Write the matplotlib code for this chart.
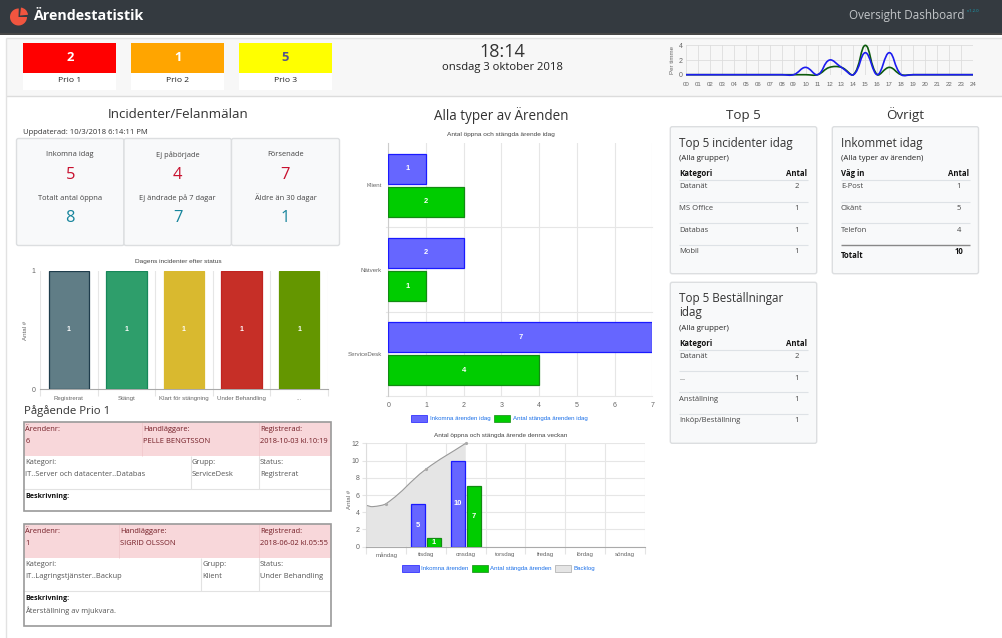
import numpy as np
import matplotlib
matplotlib.use('Agg')
import matplotlib.pyplot as plt
from matplotlib.patches import Rectangle, FancyBboxPatch, Wedge, PathPatch
from matplotlib.path import Path

W, H = 1003, 638
UI_FONT = 'Open Sans'
CHART_FONT = 'Liberation Sans'

# priority tiles
prio_names = ['Prio 1', 'Prio 2', 'Prio 3']
prio_values = [2, 1, 5]

# hourly sparkline
hours = list(range(25))
hour_labels = ['%02d' % h for h in hours]
hourly_green = [0, 0, 0, 0, 0, 0, 0, 0, 0, 0, 0, 0, 1, 1, 0, 4, 0, 1, 0, 0, 0, 0, 0, 0, 0]
hourly_blue = [0, 0, 0, 0, 0, 0, 0, 0, 0, 0, 1, 0, 2, 1, 0, 3, 0, 3, 0, 0, 0, 0, 0, 0, 0]

# incident cards
card_top_labels = ['Inkomna idag', 'Ej påbörjade', 'Försenade']
card_top_values = [5, 4, 7]
card_low_labels = ['Totalt antal öppna', 'Ej ändrade på 7 dagar', 'Äldre än 30 dagar']
card_low_values = [8, 7, 1]

# status chart
status_names = ['Registrerat', 'Stängt', 'Klart för stängning', 'Under Behandling', '...']
status_values = [1, 1, 1, 1, 1]
status_fill = ['#607d86', '#2e9e6b', '#d9b92f', '#c62f27', '#649600']
status_edge = ['#1f3d4c', '#17875a', '#d9b92f', '#c02420', '#649600']

# today per group
group_names = ['Klient', 'Nätverk', 'ServiceDesk']
group_incoming = [1, 2, 7]
group_closed = [2, 1, 4]

# this week
days = ['måndag', 'tisdag', 'onsdag', 'torsdag', 'fredag', 'lördag', 'söndag']
week_incoming = [0, 5, 10, 0, 0, 0, 0]
week_closed = [0, 1, 7, 0, 0, 0, 0]
backlog_pos = [-0.5, -0.34, 0, 1, 2]
backlog_vals = [4.8, 4.65, 5, 9, 12]

# small tables
top_inc = [('Datanät', 2), ('MS Office', 1), ('Databas', 1), ('Mobil', 1)]
inflow = [('E-Post', 1), ('Okänt', 5), ('Telefon', 4)]
inflow_total = 10
top_orders = [('Datanät', 2), ('...', 1), ('Anställning', 1), ('Inköp/Beställning', 1)]

BLUE_FILL, BLUE_EDGE = '#6666ff', '#1a1aff'
GREEN_FILL, GREEN_EDGE = '#00cc00', '#128a12'
TICK = 6.2

fig = plt.figure(figsize=(W / 100, H / 100), dpi=100, facecolor='white')
root = fig.add_axes([0, 0, 1, 1], zorder=0)
root.set_xlim(0, W)
root.set_ylim(H, 0)
root.axis('off')


def px(size):
    return size * 0.72


def txt(x, y, s, size=10, color='#333333', ha='left', weight='normal', family=UI_FONT, rot=0, alpha=1):
    root.text(x, y, s, fontsize=px(size), color=color, ha=ha, va='center', fontweight=weight,
              family=family, rotation=rot, alpha=alpha, zorder=8)


def rect(x0, y0, x1, y1, fc, ec='none', lw=0, z=1):
    root.add_patch(Rectangle((x0, y0), x1 - x0, y1 - y0, fc=fc, ec=ec, lw=lw, zorder=z))


def line(x0, y0, x1, y1, color='#dee2e6', lw=0.8, z=3):
    root.plot([x0, x1], [y0, y1], color=color, lw=lw, zorder=z, solid_capstyle='butt')


def card(x0, y0, x1, y1):
    root.add_patch(FancyBboxPatch((x0 + 2, y0 + 2), x1 - x0 - 4, y1 - y0 - 4, boxstyle='round,pad=2,rounding_size=2',
                                  fc='#f8f9fa', ec='#dcdee0', lw=1, zorder=2))


def px_axes(x0, y0, x1, y1):
    ax = fig.add_axes([x0 / W, 1 - y1 / H, (x1 - x0) / W, (y1 - y0) / H], zorder=5)
    ax.patch.set_alpha(0)
    for s in ax.spines.values():
        s.set_visible(False)
    return ax


def spline(xs, ys, t=0.4):
    # same kind of bezier chart.js draws between its points
    verts = [(xs[0], ys[0])]
    codes = [Path.MOVETO]
    n = len(xs)
    ctrl = []
    for i in range(n):
        a = max(i - 1, 0)
        b = min(i + 1, n - 1)
        d01 = np.hypot(xs[i] - xs[a], ys[i] - ys[a])
        d12 = np.hypot(xs[b] - xs[i], ys[b] - ys[i])
        total = d01 + d12
        fa = t * d01 / total if total else 0
        fb = t * d12 / total if total else 0
        dx, dy = xs[b] - xs[a], ys[b] - ys[a]
        ctrl.append(((xs[i] - fa * dx, ys[i] - fa * dy), (xs[i] + fb * dx, ys[i] + fb * dy)))
    for i in range(1, n):
        verts += [ctrl[i - 1][1], ctrl[i][0], (xs[i], ys[i])]
        codes += [Path.CURVE4] * 3
    return verts, codes


# header
rect(0, 0, W, 33, '#343a40', z=1)
line(0, 33.5, W, 33.5, '#222222', 1.2)
# y axis is flipped here, so wedge angles run clockwise on screen
root.add_patch(Wedge((18.5, 17), 8.5, 0, 272, fc='#f0553f', ec='none', zorder=3))
root.add_patch(Wedge((20, 15.5), 8, 277, 355, fc='#f0553f', ec='none', zorder=3))
txt(33, 15.5, 'Ärendestatistik', 14.2, 'white', weight='bold')
txt(849, 15.5, 'Oversight Dashboard', 11.6, '#c2c5c8')
txt(967, 11, 'v1.2.0', 4.2, '#17a2b8')

# top strip
rect(6, 38, W, 96, '#f7f7f7', z=1)
line(6, 38, W, 38, '#e2e2e2', 1)
line(6, 95.5, W, 95.5, '#dcdcdc', 1)
line(6, 38, 6, H, '#e2e2e2', 1)

tile_x = [(23.5, 116.5), (131.5, 224), (239, 332)]
tile_col = ['#ff0000', '#ffa500', '#ffff00']
tile_txt = ['white', 'white', '#55558a']
for (x0, x1), c, tc, name, val in zip(tile_x, tile_col, tile_txt, prio_names, prio_values):
    rect(x0, 43, x1, 89.5, 'white', z=2)
    rect(x0, 43, x1, 72.5, c, z=3)
    txt((x0 + x1) / 2, 57.5, str(val), 13, tc, ha='center', weight='bold')
    txt((x0 + x1) / 2, 81, name, 8.5, '#222222', ha='center', weight='medium')

txt(502, 52, '18:14', 18, '#333333', ha='center')
txt(502.5, 67.5, 'onsdag 3 oktober 2018', 11.3, '#222222', ha='center')

# sparkline
ax = px_axes(686, 45, 973, 74.7)
ax.set_xlim(0, 24)
ax.set_ylim(0, 4.05)
ax.set_xticks(hours)
ax.set_xticklabels(hour_labels, fontsize=px(TICK), color='#666666', family=CHART_FONT)
ax.set_yticks([0, 2, 4])
ax.set_yticklabels(['0', '2', '4'], fontsize=px(7), color='#666666', family=CHART_FONT)
ax.tick_params(axis='x', length=0, pad=5)
ax.tick_params(axis='y', length=0, pad=2.5)
ax.grid(color='#dddddd', lw=0.6)
ax.set_axisbelow(True)
for vals, col, lw in [(hourly_green, '#0c5a0c', 1.2), (hourly_blue, '#1c1cf0', 1.2)]:
    v, c = spline(hours, vals)
    ax.add_patch(PathPatch(Path(v, c), fc='none', ec=col, lw=lw, clip_on=False))
txt(673, 60, 'Per timme', 6.2, '#666666', ha='center', rot=90, family=CHART_FONT)

# section headings
txt(178, 115, 'Incidenter/Felanmälan', 13.4, '#333333', ha='center')
txt(501, 115, 'Alla typer av Ärenden', 13.5, '#333333', ha='center')
txt(743, 115, 'Top 5', 13.4, '#333333', ha='center')
txt(905, 115, 'Övrigt', 13.4, '#333333', ha='center')
txt(23.5, 132.5, 'Uppdaterad: 10/3/2018 6:14:11 PM', 7.6, '#333333')

# incident cards
card_x = [(16.5, 124), (124, 231.5), (231.5, 339.5)]
for (x0, x1), a, b, c, d in zip(card_x, card_top_labels, card_top_values, card_low_labels, card_low_values):
    card(x0, 138.5, x1, 245.5)
    cx = (x0 + x1) / 2
    txt(cx, 155, a, 7.5, '#444444', ha='center')
    txt(cx, 175, str(b), 16.5, '#c8102e', ha='center')
    txt(cx, 198, c, 7.5, '#444444', ha='center')
    txt(cx, 218, str(d), 16.5, '#17859c', ha='center')

# status chart
ax = px_axes(40, 270.7, 328, 389)
ax.bar(range(5), status_values, width=0.7, color=status_fill, edgecolor=status_edge, lw=0.9, zorder=3)
for i, v in enumerate(status_values):
    ax.text(i, v / 2, str(v), color='white', fontsize=px(7), fontweight='bold', ha='center', va='center',
            family=CHART_FONT, zorder=4)
ax.set_xlim(-0.5, 4.5)
ax.set_ylim(0, 1)
ax.set_yticks([0, 1])
ax.set_yticklabels(['0', '1'], fontsize=px(7), color='#666666', family=CHART_FONT)
ax.set_xticks(np.arange(-0.5, 5))
ax.set_xticklabels([])
ax.set_xticks(range(5), minor=True)
ax.set_xticklabels(status_names, minor=True, fontsize=px(TICK), color='#666666', family=CHART_FONT)
ax.tick_params(axis='x', which='major', length=5, color='#e4e4e4', width=0.8)
ax.tick_params(axis='x', which='minor', length=0, pad=5)
ax.tick_params(axis='y', length=0, pad=3)
ax.xaxis.grid(True, which='major', color='#e6e6e6', lw=0.8)
ax.set_axisbelow(True)
ax.spines['bottom'].set_visible(True)
ax.spines['bottom'].set_color('#aaaaaa')
txt(178, 261.5, 'Dagens incidenter efter status', 6.45, '#444444', ha='center', family=CHART_FONT)
txt(25.5, 330, 'Antal #', 6.2, '#666666', ha='center', rot=90, family=CHART_FONT)

# ongoing prio 1
txt(24, 411, 'Pågående Prio 1', 11.4, '#333333')
tables = [
    dict(top=422, head=455.7, row=489, bottom=511, hand_x=143.5, grp_x=192,
         nr='6', hand='PELLE BENGTSSON', reg='2018-10-03 kl.10:19',
         cat='IT..Server och datacenter..Databas', grp='ServiceDesk', status='Registrerat', desc=''),
    dict(top=524, head=557.7, row=591.3, bottom=625.7, hand_x=120.5, grp_x=202.5,
         nr='1', hand='SIGRID OLSSON', reg='2018-06-02 kl.05:55',
         cat='IT..Lagringstjänster..Backup', grp='Klient', status='Under Behandling',
         desc='Återställning av mjukvara.'),
]
for t in tables:
    top = t['top']
    rect(24, top, 331.5, t['head'], '#f8d7da', z=2)
    root.add_patch(Rectangle((24, top), 307.5, t['bottom'] - top, fc='none', ec='#9a9a9a', lw=1.2, zorder=4))
    line(24, t['row'], 331.5, t['row'], '#e2e2e2', 0.8)
    line(t['grp_x'] - 1, t['head'], t['grp_x'] - 1, t['row'], '#e2e2e2', 0.8)
    line(259, t['head'], 259, t['row'], '#e2e2e2', 0.8)
    line(t['hand_x'] - 1, top, t['hand_x'] - 1, t['head'], '#f2c8cc', 0.6)
    line(259, top, 259, t['head'], '#f2c8cc', 0.6)
    dark = '#721c24'
    txt(25.5, top + 7.5, 'Ärendenr:', 7.5, dark)
    txt(25.5, top + 19.5, t['nr'], 7.5, dark)
    txt(t['hand_x'], top + 7.5, 'Handläggare:', 7.5, dark)
    txt(t['hand_x'], top + 19.5, t['hand'], 7.5, dark)
    txt(260, top + 7.5, 'Registrerad:', 7.5, dark)
    txt(260, top + 19.5, t['reg'], 7.5, dark)
    txt(25.5, top + 41, 'Kategori:', 7.5, '#555555')
    txt(25.5, top + 53, t['cat'], 7.5, '#555555')
    txt(t['grp_x'], top + 41, 'Grupp:', 7.5, '#555555')
    txt(t['grp_x'], top + 53, t['grp'], 7.5, '#555555')
    txt(260, top + 41, 'Status:', 7.5, '#555555')
    txt(260, top + 53, t['status'], 7.5, '#555555')
    txt(25.5, top + 74.5, 'Beskrivning:', 7.2, '#111111', weight='bold')
    if t['desc']:
        txt(25.5, top + 86.5, t['desc'], 7.5, '#555555')

# today per group
ax = px_axes(388.3, 143, 652.3, 396)
pos = np.arange(3)
ax.barh(pos - 0.196, group_incoming, height=0.356, color=BLUE_FILL, edgecolor=BLUE_EDGE, lw=0.9, zorder=3)
ax.barh(pos + 0.196, group_closed, height=0.356, color=GREEN_FILL, edgecolor=GREEN_EDGE, lw=0.9, zorder=3)
for i, (a, b) in enumerate(zip(group_incoming, group_closed)):
    ax.text(a / 2, i - 0.196, str(a), color='white', fontsize=px(7.5), fontweight='bold', ha='center', va='center',
            family=CHART_FONT, zorder=4)
    ax.text(b / 2, i + 0.196, str(b), color='white', fontsize=px(7.5), fontweight='bold', ha='center', va='center',
            family=CHART_FONT, zorder=4)
ax.set_xlim(0, 7)
ax.set_ylim(2.5, -0.5)
ax.set_xticks(range(8))
ax.set_xticklabels([str(i) for i in range(8)], fontsize=px(7), color='#666666', family=CHART_FONT)
ax.set_yticks(pos)
ax.set_yticklabels(group_names, fontsize=px(TICK), color='#666666', family=CHART_FONT)
ax.tick_params(length=0, pad=4.5)
ax.xaxis.grid(True, color='#e6e6e6', lw=0.8)
ax.set_axisbelow(True)
for b in [0.5, 1.5, 2.5]:
    ax.plot([-0.06, 7], [b, b], color='#e6e6e6', lw=0.8, clip_on=False, zorder=1)
ax.spines['left'].set_visible(True)
ax.spines['left'].set_color('#cccccc')
txt(501, 134.5, 'Antal öppna och stängda ärende idag', 6.5, '#444444', ha='center', family=CHART_FONT)

rect(411, 415, 427, 421.7, BLUE_FILL, BLUE_EDGE, 0.5, z=3)
txt(430, 418.5, 'Inkomna ärenden idag', TICK, '#1a6fe8', family=CHART_FONT)
rect(494.3, 415, 510, 421.7, GREEN_FILL, GREEN_EDGE, 0.5, z=3)
txt(513, 418.5, 'Antal stängda ärenden idag', TICK, '#1a6fe8', family=CHART_FONT)

# this week
ax = px_axes(366.3, 443.3, 644.7, 546.7)
ax.set_xlim(-0.5, 6.5)
ax.set_ylim(0, 12)
v, c = spline(backlog_pos, backlog_vals)
fill_v = v + [(backlog_pos[-1], 0), (backlog_pos[0], 0), v[0]]
fill_c = c + [Path.LINETO, Path.LINETO, Path.CLOSEPOLY]
ax.add_patch(PathPatch(Path(fill_v, fill_c), fc='#e5e5e5', ec='none', zorder=2))
ax.add_patch(PathPatch(Path(v, c), fc='none', ec='#999999', lw=0.8, zorder=2.5))
ax.plot(backlog_pos[2:], backlog_vals[2:], 'o', ms=1.3, color='#aaaaaa', zorder=2.6, clip_on=False)
xp = np.arange(7)
ax.bar(xp[1:3] - 0.2, week_incoming[1:3], width=0.36, color=BLUE_FILL, edgecolor=BLUE_EDGE, lw=0.9, zorder=3)
ax.bar(xp[1:3] + 0.2, week_closed[1:3], width=0.36, color=GREEN_FILL, edgecolor=GREEN_EDGE, lw=0.9, zorder=3)
for i in [1, 2]:
    ax.text(i - 0.2, week_incoming[i] / 2, str(week_incoming[i]), color='white', fontsize=px(7.5), fontweight='bold',
            ha='center', va='center', family=CHART_FONT, zorder=4)
    ax.text(i + 0.2, week_closed[i] / 2, str(week_closed[i]), color='white', fontsize=px(7.5), fontweight='bold',
            ha='center', va='center', family=CHART_FONT, zorder=4)
ax.set_yticks(range(0, 13, 2))
ax.set_yticklabels([str(i) for i in range(0, 13, 2)], fontsize=px(7), color='#666666', family=CHART_FONT)
ax.set_xticks(np.arange(-0.5, 7))
ax.set_xticklabels([])
ax.set_xticks(xp, minor=True)
ax.set_xticklabels(days, minor=True, fontsize=px(TICK), color='#666666', family=CHART_FONT)
ax.tick_params(axis='x', which='major', length=5, color='#e4e4e4', width=0.8)
ax.tick_params(axis='x', which='minor', length=0, pad=4)
ax.tick_params(axis='y', length=3, color='#e4e4e4', pad=2)
ax.grid(True, which='major', color='#e6e6e6', lw=0.8)
ax.set_axisbelow(True)
ax.spines['bottom'].set_visible(True)
ax.spines['bottom'].set_color('#aaaaaa')
ax.spines['left'].set_visible(True)
ax.spines['left'].set_color('#dddddd')
txt(501, 435, 'Antal öppna och stängda ärende denna veckan', 6.4, '#444444', ha='center', family=CHART_FONT)
txt(350, 499, 'Antal #', 6.2, '#666666', ha='center', rot=90, family=CHART_FONT)

rect(402.3, 565, 418.7, 571.7, BLUE_FILL, BLUE_EDGE, 0.5, z=3)
txt(420.7, 568.5, 'Inkomna ärenden', TICK, '#1a6fe8', family=CHART_FONT)
rect(472.3, 565, 488, 571.7, GREEN_FILL, GREEN_EDGE, 0.5, z=3)
txt(490, 568.5, 'Antal stängda ärenden', TICK, '#1a6fe8', family=CHART_FONT)
rect(555.3, 565, 571.5, 571.7, '#e5e5e5', '#aaaaaa', 0.5, z=3)
txt(574, 568.5, 'Backlog', TICK, '#1a6fe8', family=CHART_FONT)


# right hand cards
def stat_table(x0, x1, val_x, head_y, head, rows, row_ys, line_ys):
    txt(x0, head_y, head, 7.8, '#111111', weight='bold')
    txt(x1, head_y, 'Antal', 7.8, '#111111', ha='right', weight='bold')
    line(x0, head_y + 6.5, x1 + 1, head_y + 6.5)
    for (name, val), y in zip(rows, row_ys):
        txt(x0, y, name, 7.6, '#444444')
        txt(val_x, y, str(val), 7.6, '#444444', ha='center')
    for y in line_ys:
        line(x0, y, x1 + 1, y)


card(670.3, 126.7, 816.7, 273.7)
txt(679, 143, 'Top 5 incidenter idag', 11.6, '#333333')
txt(679, 158.5, '(Alla grupper)', 7.9, '#222222', weight='medium')
stat_table(679, 807, 797, 173, 'Kategori', top_inc, [187, 208.5, 230, 251.5], [201.5, 222.5, 244.5])

card(832.3, 126.7, 978.5, 273.7)
txt(841, 143, 'Inkommet idag', 11.6, '#333333')
txt(841, 158.5, '(Alla typer av ärenden)', 7.9, '#222222', weight='medium')
stat_table(841, 969, 959, 173, 'Väg in', inflow, [187, 208.5, 230], [201.5, 222.5])
line(841, 245, 970, 245, '#888888', 1)
txt(841, 256, 'Totalt', 7.8, '#111111', weight='bold')
txt(959, 252, str(inflow_total), 7.8, '#111111', ha='center', weight='bold')

card(670.3, 282.3, 816.7, 443.3)
txt(679, 298.3, 'Top 5 Beställningar', 11.6, '#333333')
txt(679, 312.5, 'idag', 11.6, '#333333')
txt(679, 328, '(Alla grupper)', 7.9, '#222222', weight='medium')
stat_table(679, 807, 797, 343, 'Kategori', top_orders, [356, 378, 399.5, 421], [370.5, 392, 413.5])

fig.savefig('out.png', dpi=100, facecolor='white')
